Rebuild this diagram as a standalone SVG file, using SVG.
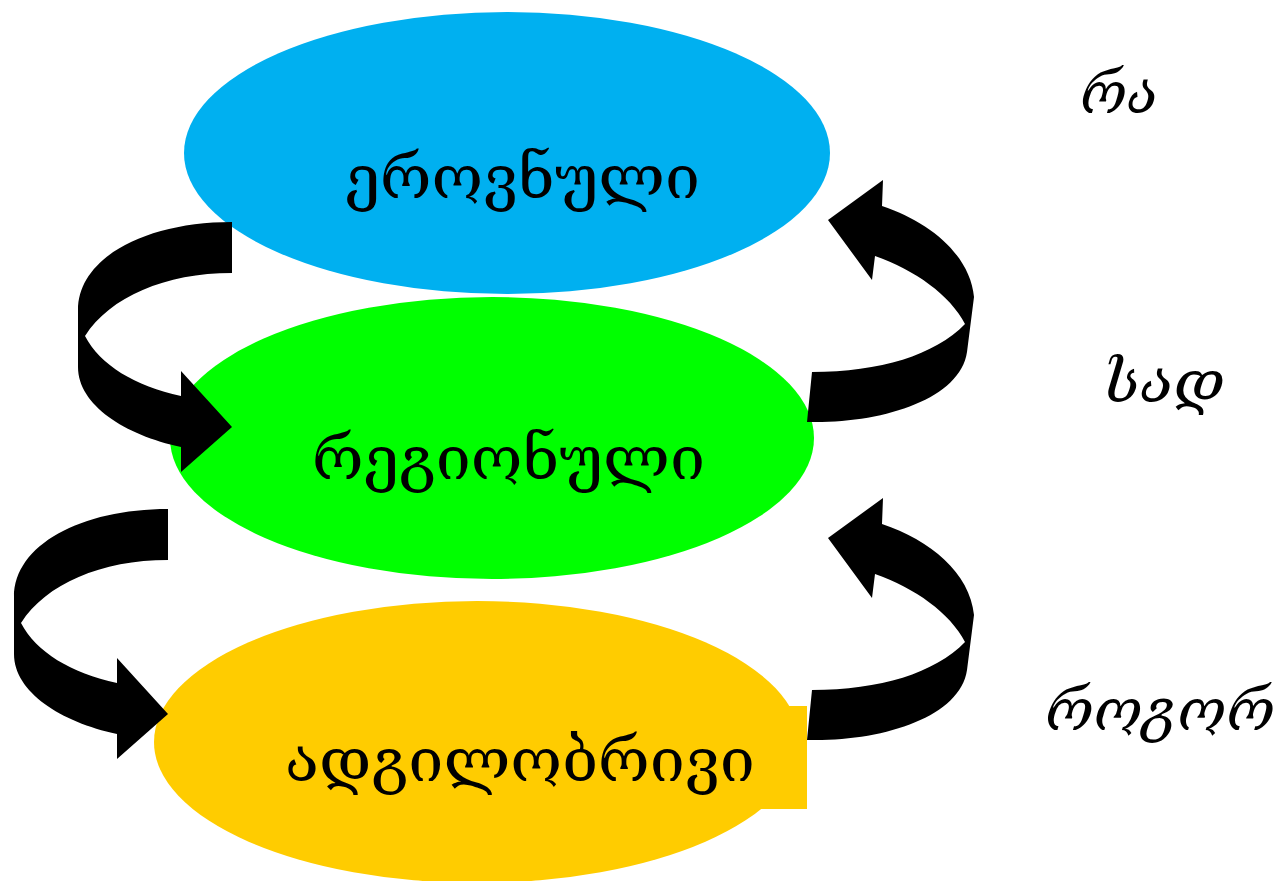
<svg xmlns="http://www.w3.org/2000/svg" width="1282" height="881" viewBox="0 0 1282 881">
<style>
.lbl{font-family:"DejaVu Serif","DejaVu Sans",serif;font-size:60px;fill:#000}
.side{font-family:"DejaVu Serif","DejaVu Sans",serif;font-size:58px;font-style:italic;fill:#000}
.arr{fill:#000}
</style>
<defs>
<path id="la" d="M232,222 C145,222 78,258 78,310 L78,367 C78,405 125,435 181,447 L181,472 L232,427 L181,371 L181,396 C135,386 100,365 85,336 C110,297 165,273 232,273 Z"/>
<path id="ra" d="M807,422 C880,424 960,400 967,352 L974,297 C970,255 930,222 882,206 L883,180 L828,220 L872,280 L875,256 C915,270 950,295 965,324 C935,355 880,372 812,372 Z"/>
</defs>
<rect width="1282" height="881" fill="#fff"/>
<g id="node-national">
<ellipse cx="507" cy="153" rx="323" ry="141" fill="#00B0F0"/>
<text class="lbl" x="345" y="198" textLength="355" lengthAdjust="spacingAndGlyphs">ეროვნული</text>
</g>
<g id="node-regional">
<ellipse cx="492" cy="438" rx="322" ry="141" fill="#00FF00"/>
<text class="lbl" x="312" y="479" textLength="393" lengthAdjust="spacingAndGlyphs">რეგიონული</text>
</g>
<g id="node-local">
<ellipse cx="477" cy="742" rx="323" ry="141" fill="#FFCC00"/>
<rect x="700" y="706" width="107" height="103" fill="#FFCC00"/>
<text class="lbl" x="285" y="781" textLength="470" lengthAdjust="spacingAndGlyphs">ადგილობრივი</text>
</g>
<g id="connectors">
<use href="#la" class="arr"/>
<use href="#la" class="arr" transform="translate(-64,287)"/>
<use href="#ra" class="arr"/>
<use href="#ra" class="arr" transform="translate(0,318)"/>
</g>
<g id="side-labels">
<text class="side" x="1080" y="113" textLength="78" lengthAdjust="spacingAndGlyphs">რა</text>
<text class="side" x="1103" y="402" textLength="122" lengthAdjust="spacingAndGlyphs">სად</text>
<text class="side" x="1045" y="730" textLength="230" lengthAdjust="spacingAndGlyphs">როგორ</text>
</g>
</svg>
